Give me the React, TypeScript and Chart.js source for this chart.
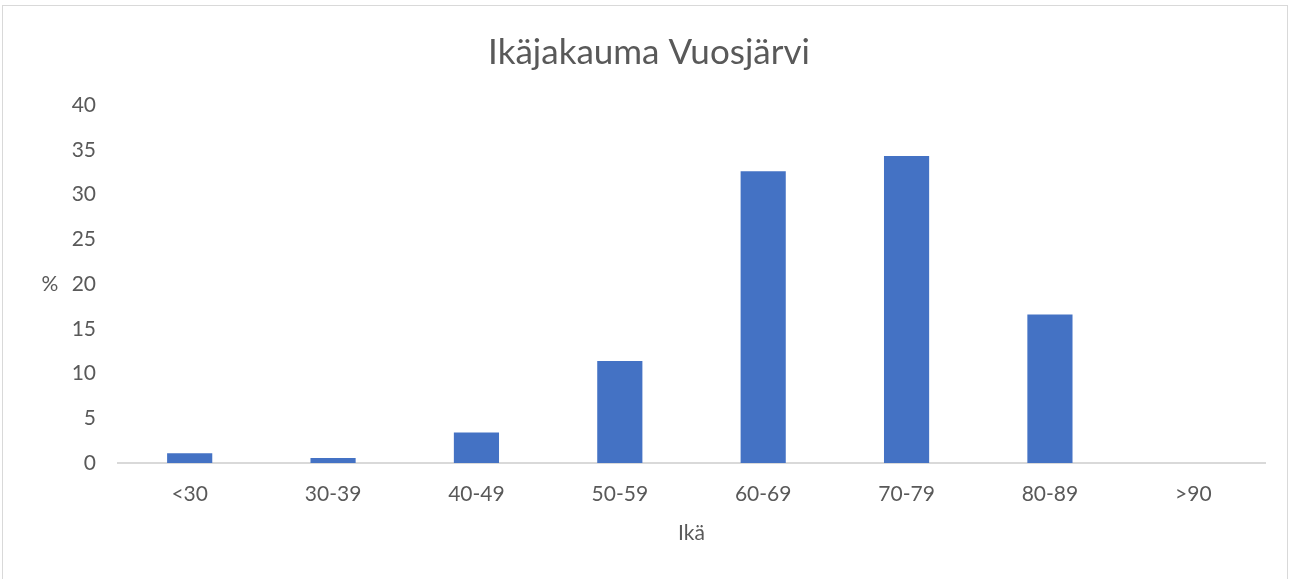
import React, { useEffect, useRef } from "react";
import { Chart, registerables } from "chart.js";

Chart.register(...registerables);

const categories = ["<30", "30-39", "40-49", "50-59", "60-69", "70-79", "80-89", ">90"];
const values = [1.1, 0.55, 3.4, 11.4, 32.6, 34.3, 16.6, 0];
const yTicks = [0, 5, 10, 15, 20, 25, 30, 35, 40];
const titleText = "Ikäjakauma Vuosjärvi";
const yLabel = "%";
const xLabel = "Ikä";

const FONT = "Lato, 'Open Sans', sans-serif";
const TEXT = "#595959";

const textPlugin = {
  id: "extraText",
  afterDraw(chart: any) {
    const ctx = chart.ctx;
    const y = chart.scales.y.getPixelForValue(20);
    ctx.save();
    ctx.fillStyle = TEXT;
    ctx.font = `21px ${FONT}`;
    ctx.textAlign = "center";
    ctx.textBaseline = "middle";
    ctx.fillText(yLabel, 50, y);
    ctx.font = `35px ${FONT}`;
    ctx.textBaseline = "alphabetic";
    ctx.fillText(titleText, chart.width / 2, 64);
    ctx.restore();
  },
};

export default function App() {
  const ref = useRef<HTMLCanvasElement>(null);
  useEffect(() => {
    if (!ref.current) return;
    const chart = new Chart(ref.current, {
      type: "bar",
      data: {
        labels: categories,
        datasets: [
          {
            data: values,
            backgroundColor: "#4472C4",
            borderWidth: 0,
            categoryPercentage: 1,
            barPercentage: 0.315,
          },
        ],
      },
      plugins: [textPlugin],
      options: {
        responsive: false,
        animation: false,
        layout: { padding: { top: 105, left: 0, right: 33, bottom: 0 } },
        plugins: {
          legend: { display: false },
          tooltip: { enabled: false },
          title: { display: false },
        },
        scales: {
          x: {
            grid: { display: false, drawTicks: false },
            border: { display: true, color: "#d9d9d9", width: 2 },
            ticks: { color: TEXT, font: { family: FONT, size: 21 }, padding: 19 },
            title: {
              display: true,
              text: xLabel,
              color: TEXT,
              font: { family: FONT, size: 21 },
              padding: { top: 10, bottom: 33 },
            },
            afterFit: (s: any) => {
              s.height = 116;
            },
          },
          y: {
            min: 0,
            max: 40,
            grid: { display: false, drawTicks: false },
            border: { display: false },
            afterBuildTicks: (s: any) => {
              s.ticks = yTicks.map((v) => ({ value: v }));
            },
            ticks: { color: TEXT, font: { family: FONT, size: 21 }, padding: 22 },
            afterFit: (s: any) => {
              s.width = 118;
            },
          },
        },
      },
    });
    return () => chart.destroy();
  }, []);
  return (
    <div style={{ position: "fixed", left: 0, top: 0, width: 1298, height: 579, background: "#fff" }}>
      <div
        style={{
          position: "absolute",
          left: 2,
          top: 5,
          width: 1286,
          height: 580,
          border: "1px solid #d9d9d9",
          boxSizing: "border-box",
        }}
      />
      <canvas ref={ref} width={1298} height={579} style={{ position: "absolute", left: 0, top: 0 }} />
    </div>
  );
}
